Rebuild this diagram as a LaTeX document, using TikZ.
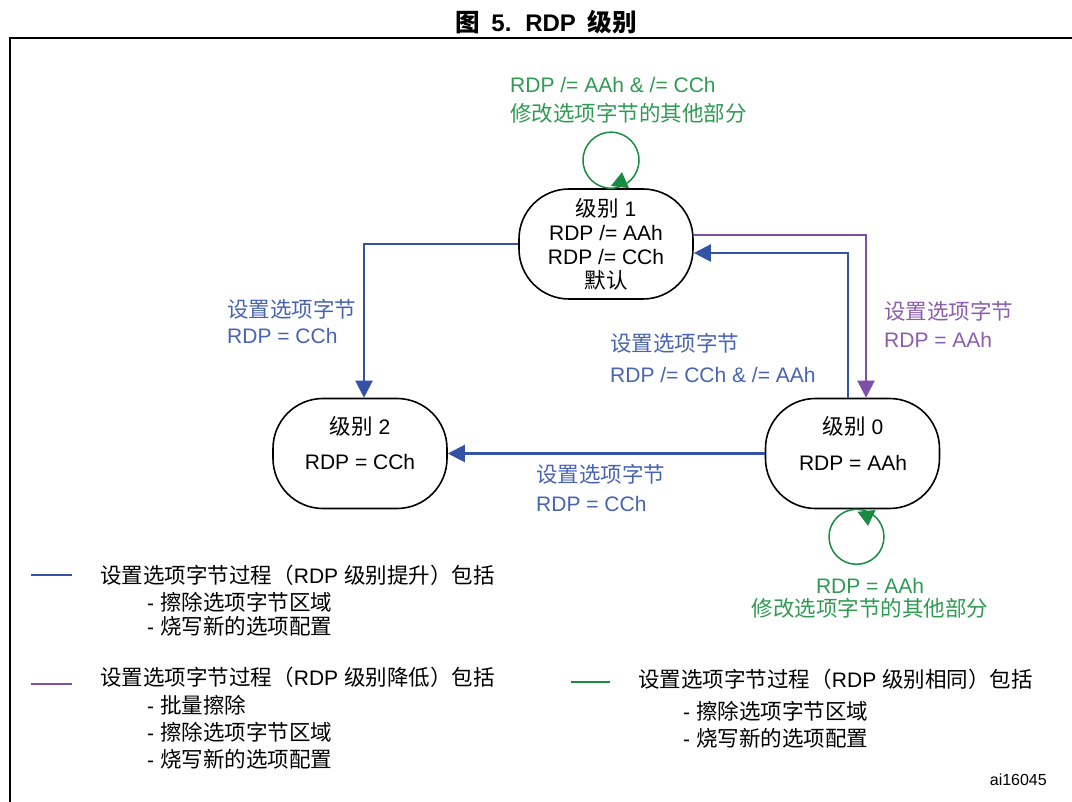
\documentclass[tikz,border=0pt]{standalone}
\usepackage{fontspec}
\setmainfont{Liberation Sans}
\newfontfamily\cjk[Scale=1.025]{Noto Sans CJK SC}
\newcommand\C[1]{{\cjk #1}}
\usetikzlibrary{arrows.meta,calc}
\definecolor{lnblue}{HTML}{3452A6}
\definecolor{txblue}{HTML}{4863B2}
\definecolor{lnpurple}{HTML}{7E4FA5}
\definecolor{txpurple}{HTML}{8B5DAE}
\definecolor{lngreen}{HTML}{1B8B43}
\definecolor{txgreen}{HTML}{2F9A52}
\begin{document}
\begin{tikzpicture}[x=1pt,y=-1pt,
  txt/.style={font=\fontsize{21}{24}\selectfont, inner sep=0pt},
  state/.style={draw, line width=1.6pt, rounded corners=50pt, minimum width=174pt, minimum height=110pt, inner sep=0pt, align=center, font=\fontsize{21}{24}\selectfont},
  bl/.style={draw=lnblue, line width=2.2pt, -{Triangle[length=17pt,width=17pt]}, fill=none},
  pu/.style={draw=lnpurple, line width=2.2pt, -{Triangle[length=17pt,width=17pt]}},
  gr/.style={draw=lngreen, line width=1.5pt},
  grarrow/.style={draw=lngreen, line width=1pt, -{Triangle[length=15pt,width=18pt]}},
  legl/.style={line width=2pt}]
\useasboundingbox (0,0) rectangle (1072,802);
% title and frame
\node[font=\fontsize{24}{27}\selectfont\bfseries, inner sep=0pt] (title) at (546,22) {\C{图}\hspace{5pt} 5.\hspace{5pt} RDP\hspace{5pt} \C{级别}};
\draw[line width=2.4pt] (10,802) -- (10,38) -- (1072,38);
% states
\node[state] (n1) at (606,244) {\C{级别} 1\\RDP /= AAh\\RDP /= CCh\\\C{默认}};
\node[state] (n2) at (360,453.5) {};
\node[state] (n0) at (852.5,453.5) {};
\node[txt, align=center] (n2t) at (360,443.5) {\C{级别} 2\\[11pt]RDP = CCh};
\node[txt, align=center] (n0t) at (853,443.5) {\C{级别} 0\\[12pt]RDP = AAh};
% transitions
\draw[bl] (n1.west) -| ([xshift=4pt]n2.north);
\draw[bl] (n0.west) -- (n2.east);
\draw[bl] ([xshift=-4.5pt]n0.north) |- ([yshift=-9pt]n1.east);
\draw[pu] ([yshift=9pt]n1.east) -| ([xshift=13.5pt]n0.north);
% self loops
\coordinate (c1) at ($(n1.north)+(5,-28)$);
\draw[gr] (c1) circle[radius=28pt];
\draw[grarrow] ($(n1.north)+(14,-1)$) -- ($(n1.north)+(16,-16)$);
\coordinate (c0) at ($(n0.south)+(4,27.5)$);
\draw[gr] (c0) circle[radius=27.5pt];
\draw[grarrow] ($(n0.south)+(14,1.5)$) -- ($(n0.south)+(15.5,16.5)$);
% labels
\node[txt, txblue, anchor=west, align=left] (lab12) at (227,321) {\C{设置选项字节}\\[2pt]RDP = CCh};
\node[txt, txblue, anchor=west, align=left] (lab01) at (610,357.5) {\C{设置选项字节}\\[7pt]RDP /= CCh \& /= AAh};
\node[txt, txpurple, anchor=west, align=left] (lab10) at (884,324) {\C{设置选项字节}\\[4pt]RDP = AAh};
\node[txt, txblue, anchor=west, align=left] (lab02) at (536,487.5) {\C{设置选项字节}\\[5pt]RDP = CCh};
\node[txt, txgreen, anchor=west, align=left] (lab11) at (510,100.5) {RDP /= AAh \& /= CCh\\[5pt]\C{修改选项字节的其他部分}};
\node[txt, txgreen, align=center] (lab00) at (870,598.5) {RDP = AAh\\[-1pt]\C{修改选项字节的其他部分}};
% legend
\draw[legl, lnblue] (31,575) -- (72,575);
\node[txt, anchor=west] (lg1) at (100,575) {\C{设置选项字节过程（}RDP \C{级别提升）包括}};
\node[txt, anchor=west] (lg1a) at (147,602) {- \C{擦除选项字节区域}};
\node[txt, anchor=west] (lg1b) at (147,626) {- \C{烧写新的选项配置}};
\draw[legl, lnpurple] (31,684) -- (72,684);
\node[txt, anchor=west] (lg2) at (100,677) {\C{设置选项字节过程（}RDP \C{级别降低）包括}};
\node[txt, anchor=west] (lg2a) at (147,705) {- \C{批量擦除}};
\node[txt, anchor=west] (lg2b) at (147,732) {- \C{擦除选项字节区域}};
\node[txt, anchor=west] (lg2c) at (147,759) {- \C{烧写新的选项配置}};
\draw[legl, lngreen] (571,682) -- (610,682);
\node[txt, anchor=west] (lg3) at (638,679) {\C{设置选项字节过程（}RDP \C{级别相同）包括}};
\node[txt, anchor=west] (lg3a) at (683,711) {- \C{擦除选项字节区域}};
\node[txt, anchor=west] (lg3b) at (683,738) {- \C{烧写新的选项配置}};
\node[font=\fontsize{16}{18}\selectfont, inner sep=0pt, anchor=east] (ai) at (1047,780) {ai16045};
\end{tikzpicture}
\end{document}
